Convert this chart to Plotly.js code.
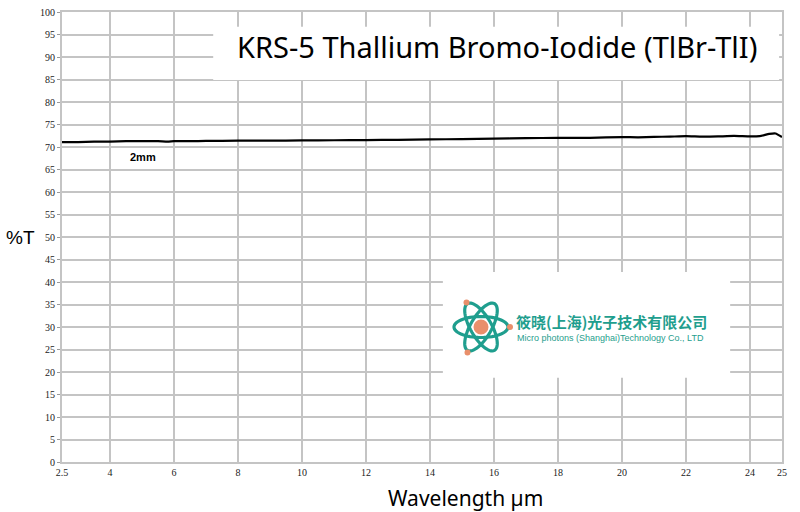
<!DOCTYPE html>
<html>
<head>
<meta charset="utf-8">
<script src="https://cdn.plot.ly/plotly-3.0.1.min.js"></script>
<style>html,body{margin:0;padding:0;background:#fff;}#chart{width:800px;height:512px;}</style>
</head>
<body>
<div id="chart"></div>
<script>
// Data
const wavelength = [2.5, 3, 3.5, 4, 4.5, 5, 5.5, 5.8, 6, 6.5, 7, 8, 9, 10, 11, 12, 13, 14, 15, 16, 17, 18, 19, 20, 20.5, 21, 21.5, 22, 22.5, 23, 23.5, 24, 24.3, 24.6, 24.8, 25];
const transmission = [71.1, 71.1, 71.2, 71.2, 71.3, 71.3, 71.3, 71.2, 71.3, 71.3, 71.35, 71.4, 71.4, 71.45, 71.5, 71.55, 71.6, 71.7, 71.75, 71.85, 71.95, 72.05, 72.05, 72.2, 72.15, 72.25, 72.3, 72.4, 72.3, 72.35, 72.45, 72.35, 72.4, 72.9, 73.0, 72.2];
const xTickVals = [2.5, 4, 6, 8, 10, 12, 14, 16, 18, 20, 22, 24, 25];
const xTickText = ["2.5", "4", "6", "8", "10", "12", "14", "16", "18", "20", "22", "24", "25"];
const titleText = "KRS-5 Thallium Bromo-Iodide (TlBr-TlI)";
const xTitle = "Wavelength µm";
const yTitle = "%T";
const thicknessLabel = "2mm";
const companyCN = "筱晓(上海)光子技术有限公司";
const companyEN = "Micro photons (Shanghai)Technology Co., LTD";

const teal = "#1f9e8e";
const orange = "#e98f6b";
const gridCol = "#c4c4c4";

// Plot area geometry (pixels) for placing the decorative logo
const W = 800, H = 512, ML = 62, MR = 18, MT = 12, MB = 50;
const PW = W - ML - MR, PH = H - MT - MB;
const px2x = p => (p - ML) / PW;
const px2y = p => (H - MB - p) / PH;

// Atom logo drawn with shapes (decoration)
const atomC = [481, 327];
function orbitPath(deg) {
  const th = deg * Math.PI / 180, rx = 27, ry = 10.5, n = 60;
  let d = "";
  for (let i = 0; i <= n; i++) {
    const t = 2 * Math.PI * i / n;
    const sx = atomC[0] + rx * Math.cos(t) * Math.cos(th) - ry * Math.sin(t) * Math.sin(th);
    const sy = atomC[1] + rx * Math.cos(t) * Math.sin(th) + ry * Math.sin(t) * Math.cos(th);
    d += (i === 0 ? "M" : "L") + px2x(sx).toFixed(5) + "," + px2y(sy).toFixed(5);
  }
  return d + "Z";
}
function dot(cx, cy, r, col) {
  return {type: "circle", xref: "paper", yref: "paper",
    x0: px2x(cx - r), x1: px2x(cx + r), y0: px2y(cy + r), y1: px2y(cy - r),
    fillcolor: col, line: {width: 0}, layer: "above"};
}

const trace = {
  x: wavelength,
  y: transmission,
  type: "scatter",
  mode: "lines",
  line: {color: "#000", width: 2.2, shape: "spline", smoothing: 0.4},
  hoverinfo: "skip",
  showlegend: false
};

const shapes = [
  {type: "rect", xref: "paper", yref: "paper", x0: 0.21, x1: 0.996, y0: 0.849, y1: 0.967,
   fillcolor: "#fff", line: {width: 0}, layer: "above"},
  {type: "rect", xref: "paper", yref: "paper", x0: 0.529, x1: 0.928, y0: 0.187, y1: 0.422,
   fillcolor: "#fff", line: {width: 0}, layer: "above"}
];
[0, 60, -60].forEach(a => shapes.push({type: "path", xref: "paper", yref: "paper",
  path: orbitPath(a), line: {color: teal, width: 3.2}, fillcolor: "rgba(0,0,0,0)", layer: "above"}));
shapes.push(dot(atomC[0], atomC[1], 7.5, orange));
shapes.push(dot(atomC[0] + 29, atomC[1], 3, orange));
shapes.push(dot(atomC[0] - 14.5, atomC[1] - 24.5, 3, orange));
shapes.push(dot(atomC[0] - 13.5, atomC[1] + 25.5, 3, orange));

const tickFont = {family: "Liberation Serif", size: 10, color: "#222"};

const layout = {
  width: W,
  height: H,
  margin: {l: ML, r: MR, t: MT, b: MB},
  paper_bgcolor: "#fff",
  plot_bgcolor: "#fff",
  showlegend: false,
  xaxis: {
    range: [2.5, 25],
    tickmode: "array",
    tickvals: xTickVals,
    ticktext: xTickText,
    showgrid: true,
    gridcolor: gridCol,
    gridwidth: 2,
    zeroline: false,
    showline: true,
    mirror: true,
    linecolor: gridCol,
    linewidth: 2,
    ticks: "",
    tickfont: tickFont
  },
  yaxis: {
    range: [0, 100],
    dtick: 5,
    tick0: 0,
    showgrid: true,
    gridcolor: gridCol,
    gridwidth: 2,
    zeroline: false,
    showline: true,
    mirror: true,
    linecolor: gridCol,
    linewidth: 2,
    ticks: "outside",
    ticklen: 3,
    tickcolor: "#999",
    tickfont: tickFont
  },
  shapes: shapes,
  annotations: [
    {text: titleText, xref: "paper", yref: "paper", x: 0.6035, y: 0.924,
     xanchor: "center", yanchor: "middle", showarrow: false,
     font: {family: "Noto Sans", size: 29, color: "#000"}},
    {text: xTitle, xref: "paper", yref: "paper", x: 0.56, y: -0.08,
     xanchor: "center", yanchor: "middle", showarrow: false,
     font: {family: "Noto Sans", size: 21, color: "#000"}},
    {text: yTitle, xref: "paper", yref: "paper", x: -0.057, y: 0.498,
     xanchor: "center", yanchor: "middle", showarrow: false,
     font: {family: "Liberation Sans", size: 19, color: "#000"}},
    {text: "<b>" + thicknessLabel + "</b>", xref: "x", yref: "y", x: 5.03, y: 67.7,
     xanchor: "center", yanchor: "middle", showarrow: false,
     font: {family: "Liberation Sans", size: 11, color: "#000"}},
    {text: "<b>" + companyCN + "</b>", xref: "paper", yref: "paper", x: 0.628, y: 0.313,
     xanchor: "left", yanchor: "middle", showarrow: false,
     font: {family: "Noto Sans CJK SC", size: 15, color: teal}},
    {text: companyEN, xref: "paper", yref: "paper", x: 0.629, y: 0.2756,
     xanchor: "left", yanchor: "middle", showarrow: false,
     font: {family: "Liberation Sans", size: 9, color: teal}}
  ]
};

Plotly.newPlot("chart", [trace], layout, {staticPlot: true, displayModeBar: false});
</script>
</body>
</html>
